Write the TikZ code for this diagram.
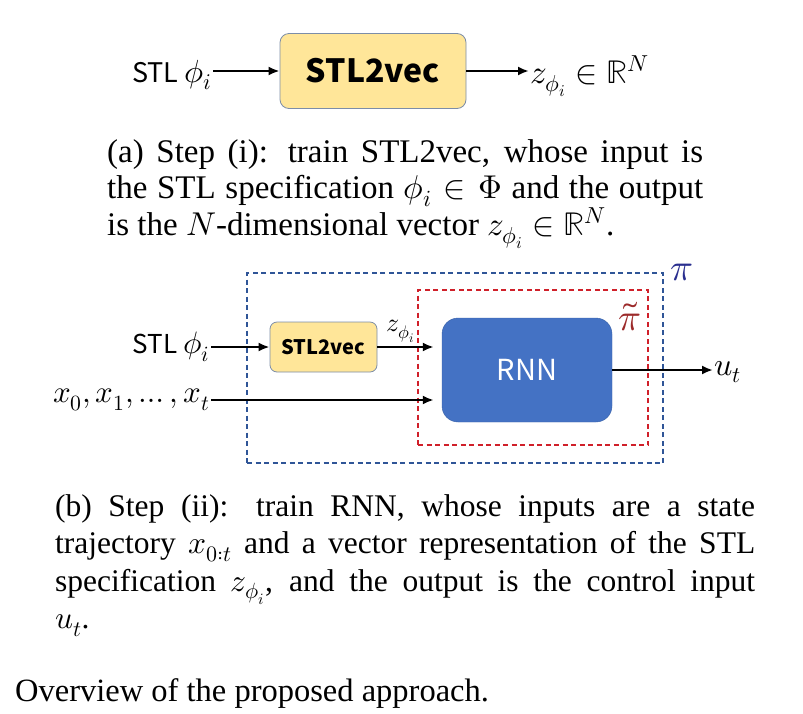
\documentclass[tikz,border=0pt]{standalone}
\usepackage{amsmath}
\usepackage{fontspec}
\usepackage{unicode-math}
\setmainfont{Liberation Serif}
\setmathfont{Latin Modern Math}
\newfontfamily\gothic{Noto Sans CJK JP}
\usepackage{tikz}
\usetikzlibrary{arrows.meta, positioning}
\usepackage{xcolor}
\definecolor{vecfill}{HTML}{FFE699}
\definecolor{vecedge}{HTML}{7C8DA8}
\definecolor{rnnfill}{HTML}{4472C4}
\definecolor{piblue}{HTML}{2F5597}
\definecolor{pilabel}{HTML}{2A2F8F}
\definecolor{pired}{HTML}{D0202A}
\definecolor{pitlabel}{HTML}{9C2A2A}
\newcommand{\fsz}[1]{\fontsize{#1}{#1}\selectfont}

\begin{document}
\begin{tikzpicture}[x=1pt, y=-1pt,
    arr/.style={-{Latex[length=11pt, width=9pt]}, line width=2.6pt},
    vecbox/.style={draw=vecedge, fill=vecfill, line width=0.8pt},
    dashbox/.style={line width=1.6pt, dash pattern=on 5pt off 3.5pt},
    caption/.style={inner sep=0pt, align=justify}]
  \useasboundingbox (0,0) rectangle (803,713);

  % Step (i): STL2vec alone
  \node[vecbox, rounded corners=9pt, minimum width=186, minimum height=75,
        font=\gothic\bfseries\fsz{32}] (vecA) at (373,71) {STL2vec};
  \node[anchor=east, inner sep=1pt, font=\gothic\fsz{27}] (stlA) at (213,75) {STL {\fsz{32}$\phi_i$}};
  \node[anchor=base west, inner sep=1pt, font=\fsz{33}] (zA) at (529,83) {$z_{\phi_i}\in\mathbb{R}^N$};
  \draw[arr] (stlA.east |- vecA) -- (vecA);
  \draw[arr] (vecA) -- (vecA -| zA.west);

  \node[caption, anchor=north west, text width=596, font=\fontsize{33}{36.5}\selectfont] (capA) at (107,139)
    {(a) Step (i): train STL2vec, whose input is\linebreak
     the STL specification $\phi_i\in\Phi$ and the output\linebreak
     is the $N$-dimensional vector $z_{\phi_i}\in\mathbb{R}^N$.};

  % Step (ii): policy pi and RNN part
  \node[dashbox, draw=piblue, minimum width=416, minimum height=190] (pi) at (455,368) {};
  \node[dashbox, draw=pired, minimum width=230, minimum height=155] (pit) at (533,367.5) {};
  \node[anchor=base west, inner sep=0pt, text=pilabel, font=\fsz{38}]
    (pilbl) at ([xshift=6pt, yshift=-8pt]pi.north east) {$\pi$};
  \node[inner sep=0pt, text=pitlabel, font=\fsz{38}]
    (pitlbl) at ([xshift=-19pt, yshift=-27pt]pit.north east) {$\tilde{\pi}$};

  \node[vecbox, rounded corners=7pt, minimum width=107, minimum height=50,
        font=\gothic\bfseries\fsz{20}] (vecB) at (323.5,347) {STL2vec};
  \node[draw=rnnfill!85!black, fill=rnnfill, rounded corners=16pt, minimum width=170, minimum height=104,
        text=white, font=\gothic\fsz{29}] (rnn) at (527,370) {RNN};

  \node[anchor=east, inner sep=1pt, font=\gothic\fsz{26}] (stlB) at (211,347) {STL {\fsz{31}$\phi_i$}};
  \node[anchor=east, inner sep=1pt, font=\fsz{31}] (xs) at (211,400) {$x_0, x_1, \dots, x_t$};
  \node[anchor=west, inner sep=1pt, font=\fsz{32}] (ut) at (713,372) {$u_t$};

  \draw[arr] (stlB.east |- vecB) -- (vecB);
  \draw[arr, shorten >=8pt] (vecB) -- (vecB -| rnn.west)
    node[midway, above, xshift=-9pt, inner sep=3pt, font=\fsz{26}] (zB) {$z_{\phi_i}$};
  \draw[arr, shorten >=8pt] (xs.east) -- (xs.east -| rnn.west);
  \draw[arr] (rnn) -- (rnn -| ut.west);

  \node[caption, anchor=north west, text width=700, font=\fontsize{31.5}{37.5}\selectfont] (capB) at (55,494)
    {(b) Step (ii): train RNN, whose inputs are a state\linebreak
     trajectory $x_{0:t}$ and a vector representation of the STL\linebreak
     specification $z_{\phi_i}$, and the output is the control input\linebreak
     $u_t$.};

  \node[anchor=base west, inner sep=0pt, font=\fsz{32.5}] (overview) at (15,701)
    {Overview of the proposed approach.};
\end{tikzpicture}
\end{document}
